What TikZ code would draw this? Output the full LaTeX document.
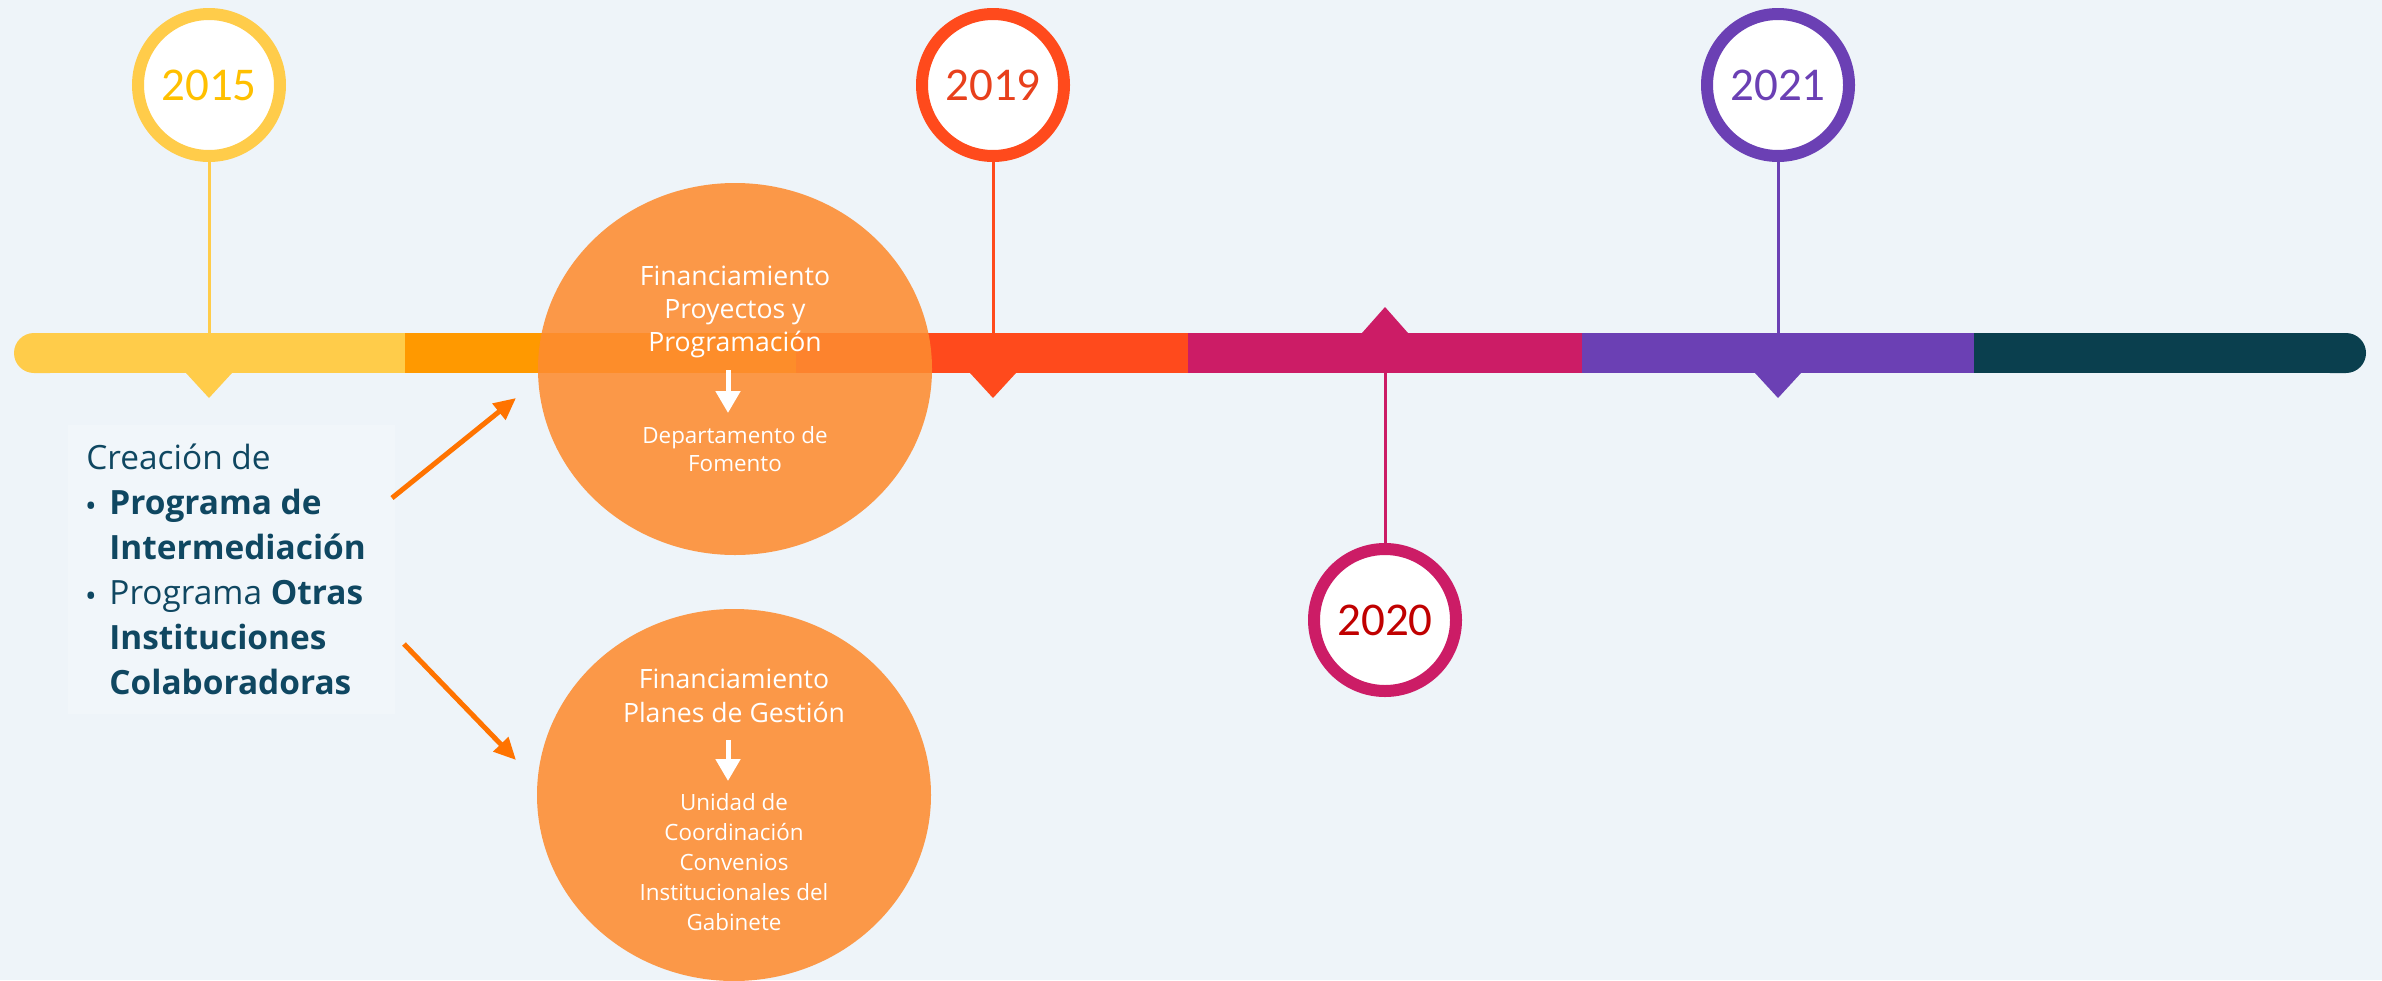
\documentclass[tikz,border=0pt]{standalone}
\usepackage{fontspec}
\setmainfont{Open Sans}
\newfontfamily\yearfont{Carlito}
\usepackage{tikz}
\usetikzlibrary{shapes,arrows.meta}
\definecolor{bgcol}{HTML}{EEF4F9}
\definecolor{boxcol}{HTML}{F1F6FA}
\definecolor{cyellow}{HTML}{FFCC4A}
\definecolor{cyellowtxt}{HTML}{FFC000}
\definecolor{corange}{HTML}{FF9900}
\definecolor{cred}{HTML}{FF4A1C}
\definecolor{credtxt}{HTML}{E8401C}
\definecolor{cmagenta}{HTML}{CC1C66}
\definecolor{cdarkred}{HTML}{C00000}
\definecolor{cpurple}{HTML}{6B40B4}
\definecolor{cteal}{HTML}{0A3F4E}
\definecolor{ctext}{HTML}{0F4761}
\definecolor{cblob}{HTML}{FD8C30}
\definecolor{carrow}{HTML}{FF7300}
\tikzstyle{yearnode}=[circle,fill=white,line width=6pt,minimum size=71pt,inner sep=0pt,font=\yearfont\fontsize{23.5}{23.5}\selectfont]

\begin{document}
\begin{tikzpicture}[x=0.5pt,y=-0.5pt]
    \tikzstyle{blob}=[ellipse,fill=cblob,fill opacity=0.88,text opacity=1,minimum width=197pt,minimum height=186pt,inner sep=0pt]
    \tikzstyle{blobtext}=[text=white,align=center,inner sep=0pt]
    \tikzstyle{stem}=[line width=1.5pt]
    \tikzstyle{flow}=[carrow,line width=2.5pt,-{Triangle[width=10pt,length=11pt]}]
    \tikzstyle{down}=[white,line width=2.5pt,-{Triangle[width=12pt,length=11pt]}]
    \useasboundingbox (0,0) rectangle (2382,980);
    \fill[bgcol] (0,0) rectangle (2382,980);
    \fill[boxcol] (68,425) rectangle (395,714);
    % timeline bar
    \fill[cyellow,rounded corners=10pt] (14,333) rectangle (70,373);
    \fill[cyellow] (40,333) rectangle (405,373);
    \fill[corange] (405,333) rectangle (796,373);
    \fill[cred] (796,333) rectangle (1188,373);
    \fill[cmagenta] (1188,333) rectangle (1582,373);
    \fill[cpurple] (1582,333) rectangle (1974,373);
    \fill[cteal] (1974,333) rectangle (2330,373);
    \fill[cteal,rounded corners=10pt] (2310,333) rectangle (2366,373);
    % markers
    \fill[cyellow] (186,373) -- (232,373) -- (209,398) -- cycle;
    \fill[cred] (970,373) -- (1016,373) -- (993,398) -- cycle;
    \fill[cmagenta] (1362,333) -- (1408,333) -- (1385,307) -- cycle;
    \fill[cpurple] (1755,373) -- (1801,373) -- (1778,398) -- cycle;
    \coordinate (b15) at (209,333);
    \coordinate (b19) at (993,333);
    \coordinate (b20) at (1385,373);
    \coordinate (b21) at (1778,333);
    % years
    \draw[stem,cyellow] (209,160) -- (b15);
    \draw[stem,cred] (993,160) -- (b19);
    \draw[stem,cmagenta] (1385,545) -- (b20);
    \draw[stem,cpurple] (1778,160) -- (b21);
    \node[yearnode,draw=cyellow,text=cyellowtxt] (y15) at (209,85) {2015};
    \node[yearnode,draw=cred,text=credtxt] (y19) at (993,85) {2019};
    \node[yearnode,draw=cmagenta,text=cdarkred] (y20) at (1385,620) {2020};
    \node[yearnode,draw=cpurple,text=cpurple] (y21) at (1778,85) {2021};
    % funding circles
    \node[blob] (f19) at (735,369) {};
    \node[blob] (f15) at (734,795) {};
    \node[blobtext,font=\fontsize{13.3}{16.5}\selectfont] (f19a) at (735,312) {Financiamiento\\Proyectos y\\Programación};
    \node[blobtext,font=\fontsize{11.2}{14}\selectfont] (f19b) at (735,449) {Departamento de\\Fomento};
    \draw[down] (728,370) -- (728,413);
    \node[blobtext,font=\fontsize{13.3}{17}\selectfont] (f15a) at (734,696) {Financiamiento\\Planes de Gestión};
    \node[blobtext,font=\fontsize{11.2}{15}\selectfont] (f15b) at (734,862) {Unidad de\\Coordinación\\Convenios\\Institucionales del\\Gabinete};
    \draw[down] (728,740) -- (728,781);
    % left text
    \node[text=ctext,align=left,anchor=west,inner sep=0pt,font=\fontsize{16.7}{22.5}\selectfont] (txt) at (86,569)
        {Creación de\\
         \makebox[11.5pt][l]{\large\textbf{•}}\textbf{Programa de}\\
         \hspace*{11.5pt}\textbf{Intermediación}\\
         \makebox[11.5pt][l]{\large\textbf{•}}Programa \textbf{Otras}\\
         \hspace*{11.5pt}\textbf{Instituciones}\\
         \hspace*{11.5pt}\textbf{Colaboradoras}};
    \coordinate (a1) at (392,498);
    \coordinate (a2) at (404,644);
    \coordinate (t1) at (516,398);
    \coordinate (t2) at (516,760);
    \draw[flow] (a1) -- (t1);
    \draw[flow] (a2) -- (t2);
\end{tikzpicture}
\end{document}
